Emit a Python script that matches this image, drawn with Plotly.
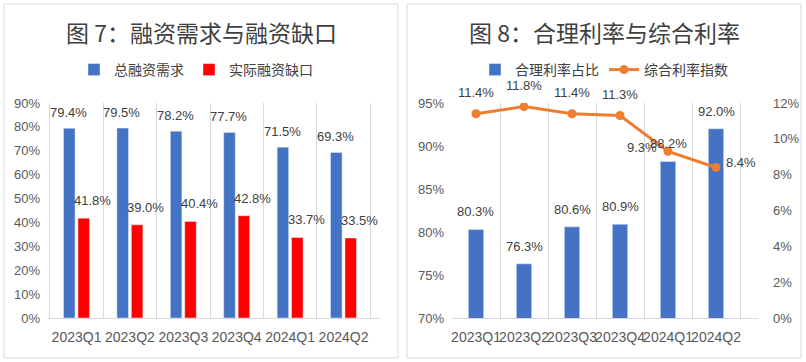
import plotly.graph_objects as go

categories = ["2023Q1", "2023Q2", "2023Q3", "2023Q4", "2024Q1", "2024Q2"]
total_demand = [79.4, 79.5, 78.2, 77.7, 71.5, 69.3]
financing_gap = [41.8, 39.0, 40.4, 42.8, 33.7, 33.5]
reasonable_rate_share = [80.3, 76.3, 80.6, 80.9, 88.2, 92.0]
composite_rate_index = [11.4, 11.8, 11.4, 11.3, 9.3, 8.4]

W, H = 806, 362
BLUE = "#4472C4"
RED = "#FF0000"
ORANGE = "#ED7D31"
TXT = "#404040"
TICK = "#595959"
GRID = "#D9D9D9"
FONT = "Liberation Sans, Noto Sans CJK SC"
CJK = "Noto Sans CJK SC"

def px(x):
    return x / W

def py(y):
    return 1 - y / H

fig = go.Figure()

fig.add_trace(go.Bar(x=categories, y=total_demand, name="总融资需求", marker_color=BLUE,
                     xaxis="x", yaxis="y", legend="legend"))
fig.add_trace(go.Bar(x=categories, y=financing_gap, name="实际融资缺口", marker_color=RED,
                     xaxis="x", yaxis="y", legend="legend"))
fig.add_trace(go.Bar(x=categories, y=reasonable_rate_share, name="合理利率占比", marker_color=BLUE,
                     xaxis="x2", yaxis="y2", legend="legend2", width=0.32))
fig.add_trace(go.Scatter(x=categories, y=composite_rate_index, name="综合利率指数", mode="lines+markers",
                         line=dict(color=ORANGE, width=3), marker=dict(size=9, color=ORANGE),
                         xaxis="x2", yaxis="y3", legend="legend2"))

ann = []
lab_font = dict(family=FONT, size=13, color=TXT)
for c, v in zip(categories, total_demand):
    ann.append(dict(x=c, y=v, xref="x", yref="y", text=f"{v:.1f}%", showarrow=False,
                    xshift=-8, yshift=6, yanchor="bottom", font=lab_font))
for c, v in zip(categories, financing_gap):
    ann.append(dict(x=c, y=v, xref="x", yref="y", text=f"{v:.1f}%", showarrow=False,
                    xshift=16, yshift=8, yanchor="bottom", font=lab_font))
for c, v in zip(categories, reasonable_rate_share):
    ann.append(dict(x=c, y=v, xref="x2", yref="y2", text=f"{v:.1f}%", showarrow=False,
                    xshift=0, yshift=8, yanchor="bottom", font=lab_font))
line_shifts = [(0, 12), (0, 12), (0, 12), (0, 12), (-26, -6), (25, -4)]
for (c, v), (xs, ys) in zip(zip(categories, composite_rate_index), line_shifts):
    ann.append(dict(x=c, y=v, xref="x2", yref="y3", text=f"{v:.1f}%", showarrow=False,
                    xshift=xs, yshift=ys, yanchor="bottom", font=lab_font))

title_font = dict(family=CJK, size=23, color=TXT)
ann.append(dict(x=px(201), y=py(32), xref="paper", yref="paper", text="图 7：融资需求与融资缺口",
                showarrow=False, font=title_font, xanchor="center", yanchor="middle"))
ann.append(dict(x=px(604), y=py(32), xref="paper", yref="paper", text="图 8：合理利率与综合利率",
                showarrow=False, font=title_font, xanchor="center", yanchor="middle"))

shapes = [
    dict(type="rect", xref="paper", yref="paper", x0=px(4), x1=px(398), y0=py(358), y1=py(4),
         line=dict(color="#D9D9D9", width=1)),
    dict(type="rect", xref="paper", yref="paper", x0=px(407), x1=px(801), y0=py(358), y1=py(4),
         line=dict(color="#D9D9D9", width=1)),
]

tickfont = dict(family=FONT, size=13, color=TICK)
xtickfont = dict(family=FONT, size=14, color=TICK)
ydom = [py(318), py(103)]

fig.update_layout(
    width=W, height=H, margin=dict(l=0, r=0, t=0, b=0),
    paper_bgcolor="white", plot_bgcolor="white",
    barmode="group", bargap=0.46, bargroupgap=0.2,
    showlegend=True,
    xaxis=dict(domain=[px(48), px(380)], anchor="y", tickson="boundaries", showgrid=True,
               gridcolor=GRID, ticks="", tickfont=xtickfont, showline=True, linecolor=GRID,
               tickangle=0, automargin=False, ticklabelstandoff=6),
    yaxis=dict(domain=ydom, anchor="x", range=[0, 90], dtick=10, ticksuffix="%", showgrid=False,
               tickfont=tickfont, zeroline=False, automargin=False, ticklabelstandoff=7),
    xaxis2=dict(domain=[px(452), px(758)], anchor="y2", tickson="boundaries", showgrid=True,
                gridcolor=GRID, ticks="", tickfont=xtickfont, showline=True, linecolor=GRID,
                tickangle=0, automargin=False, ticklabelstandoff=6),
    yaxis2=dict(domain=ydom, anchor="x2", range=[70, 95], dtick=5, ticksuffix="%", showgrid=False,
                tickfont=tickfont, zeroline=False, automargin=False, ticklabelstandoff=7),
    yaxis3=dict(domain=ydom, anchor="x2", overlaying="y2", side="right", range=[0, 12], dtick=2,
                ticksuffix="%", showgrid=False, tickfont=tickfont, zeroline=False,
                automargin=False, ticklabelstandoff=14),
    legend=dict(orientation="h", x=px(196), y=py(70), xanchor="center", yanchor="middle",
                font=dict(family=CJK, size=14, color=TXT), itemwidth=30,
                bgcolor="rgba(0,0,0,0)"),
    legend2=dict(orientation="h", x=px(604), y=py(70), xanchor="center", yanchor="middle",
                 font=dict(family=CJK, size=14, color=TXT), itemwidth=30,
                 bgcolor="rgba(0,0,0,0)"),
    annotations=ann, shapes=shapes,
)

fig.write_html("out.html", config={"displayModeBar": False},
               post_script="document.body.style.margin='0';")
